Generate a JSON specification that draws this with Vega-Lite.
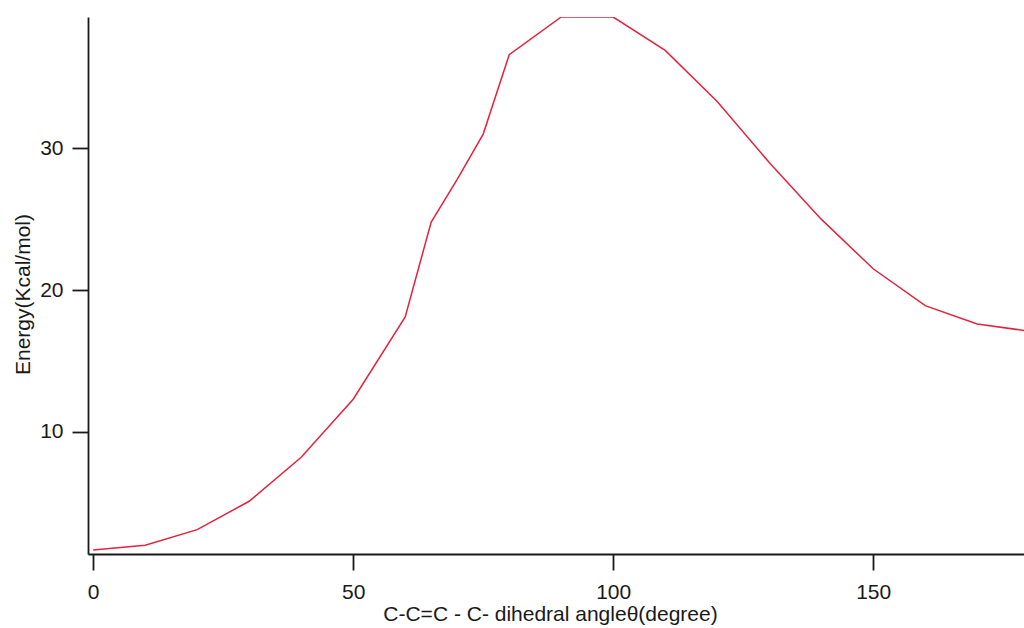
{
  "$schema": "https://vega.github.io/schema/vega-lite/v6.json",
  "width": 936,
  "height": 537,
  "autosize": {"type": "none"},
  "padding": {"left": 88, "top": 17, "right": 0, "bottom": 74},
  "background": "white",
  "config": {
    "view": {"stroke": null},
    "axis": {
      "grid": false,
      "domainColor": "#1a1a1a",
      "tickColor": "#1a1a1a",
      "domainWidth": 1.8,
      "tickWidth": 1.8,
      "tickSize": 16,
      "labelFont": "Liberation Sans",
      "labelFontSize": 21,
      "labelColor": "#1a1a1a",
      "titleFont": "Liberation Sans",
      "titleFontSize": 21,
      "titleFontWeight": "normal",
      "titleColor": "#1a1a1a"
    }
  },
  "data": {
    "values": [
      {"angle": 0, "energy": 1.66},
      {"angle": 10, "energy": 2.0},
      {"angle": 20, "energy": 3.1},
      {"angle": 30, "energy": 5.1},
      {"angle": 40, "energy": 8.2},
      {"angle": 50, "energy": 12.3},
      {"angle": 60, "energy": 18.1},
      {"angle": 65, "energy": 24.8},
      {"angle": 70, "energy": 27.8},
      {"angle": 75, "energy": 31.0},
      {"angle": 80, "energy": 36.6},
      {"angle": 90, "energy": 39.26},
      {"angle": 100, "energy": 39.26},
      {"angle": 110, "energy": 36.9},
      {"angle": 120, "energy": 33.3},
      {"angle": 130, "energy": 29.0},
      {"angle": 140, "energy": 25.0},
      {"angle": 150, "energy": 21.5},
      {"angle": 160, "energy": 18.9},
      {"angle": 170, "energy": 17.6},
      {"angle": 180, "energy": 17.1}
    ]
  },
  "mark": {"type": "line", "color": "#e2233d", "strokeWidth": 1.5, "clip": true},
  "encoding": {
    "x": {
      "field": "angle",
      "type": "quantitative",
      "scale": {"domain": [-1, 179], "nice": false, "zero": false},
      "axis": {"values": [0, 50, 100, 150], "title": "C-C=C - C- dihedral angleθ(degree)", "labelPadding": 11, "titlePadding": 1, "titleX": 462, "labelFlush": false}
    },
    "y": {
      "field": "energy",
      "type": "quantitative",
      "scale": {"domain": [1.38, 39.26], "nice": false, "zero": false},
      "axis": {"values": [10, 20, 30], "title": "Energy(Kcal/mol)", "labelPadding": 9, "titlePadding": 6, "titleY": 277, "labelFlush": false}
    }
  }
}
